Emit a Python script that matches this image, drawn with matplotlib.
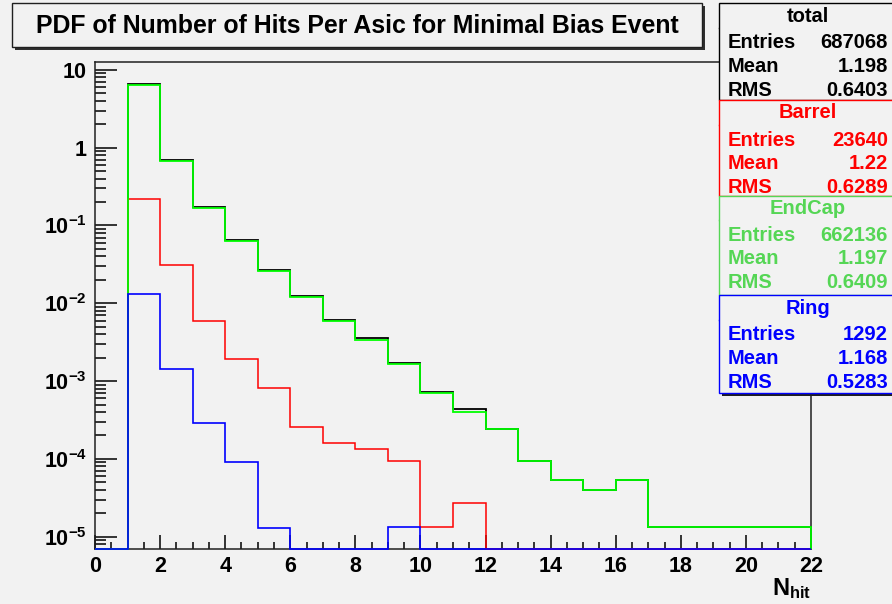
import numpy as np
import matplotlib
matplotlib.use("Agg")
import matplotlib.pyplot as plt
from matplotlib.patches import Rectangle
from matplotlib.ticker import FixedLocator, FuncFormatter, LogLocator, MultipleLocator, NullFormatter

plt.rcParams["font.family"] = ["Liberation Sans", "DejaVu Sans"]
plt.rcParams["font.weight"] = "bold"
plt.rcParams["mathtext.fontset"] = "custom"
plt.rcParams["mathtext.rm"] = "Liberation Sans:bold"
plt.rcParams["mathtext.it"] = "Liberation Sans:bold"
plt.rcParams["mathtext.bf"] = "Liberation Sans:bold"

# hits per asic, one bin per integer from 0 to 22
edges = np.arange(0, 23)
total = [0, 6.63, 0.70, 0.175, 0.0653, 0.0269, 0.01245, 0.00616, 0.00353, 0.00173,
         7.33e-4, 4.33e-4, 2.45e-4, 9.3e-5, 5.3e-5, 4.0e-5, 5.3e-5,
         1.32e-5, 1.32e-5, 1.32e-5, 1.32e-5, 1.32e-5]
barrel = [0, 0.218, 0.0306, 0.0060, 0.00193, 8.1e-4, 2.6e-4, 1.59e-4, 1.35e-4, 9.3e-5,
          1.32e-5, 2.72e-5, 0, 0, 0, 0, 0, 0, 0, 0, 0, 0]
endcap = [0, 6.40, 0.67, 0.169, 0.0633, 0.0261, 0.0122, 0.0060, 0.00339, 0.00165,
          7.1e-4, 4.06e-4, 2.45e-4, 9.3e-5, 5.3e-5, 4.0e-5, 5.3e-5,
          1.32e-5, 1.32e-5, 1.32e-5, 1.32e-5, 1.32e-5]
ring = [0, 0.0132, 0.00144, 2.9e-4, 9.2e-5, 1.31e-5, 0, 0, 0, 1.32e-5,
        0, 0, 0, 0, 0, 0, 0, 0, 0, 0, 0, 0]

stat_names = ["total", "Barrel", "EndCap", "Ring"]
stat_entries = ["687068", "23640", "662136", "1292"]
stat_mean = ["1.198", "1.22", "1.197", "1.168"]
stat_rms = ["0.6403", "0.6289", "0.6409", "0.5283"]
stat_colors = ["black", "#ff0000", "#55d655", "#0000ff"]

W, H = 892, 604
bg = "#f2f2f2"
ymin, ymax = 6.95e-6, 12.5


def fx(px):
    return px / W


def fy(py):
    return 1 - py / H


def box(x0, y0, x1, y1, ec, lw=1.0, fc=bg, z=1):
    fig.patches.append(Rectangle((fx(x0), fy(y1)), (x1 - x0) / W, (y1 - y0) / H,
                                 transform=fig.transFigure, fc=fc, ec=ec, lw=lw, zorder=z))


fig = plt.figure(figsize=(W / 100, H / 100), dpi=100, facecolor=bg)
ax = fig.add_axes([fx(95), fy(549), (811 - 95) / W, (549 - 62.3) / H])
ax.set_facecolor(bg)

# empty bins sit on the bottom of the frame
for vals, col, lw in [(total, "black", 1.3), (barrel, "#ff0000", 1.1),
                      (endcap, "#00ff00", 1.3), (ring, "#0000ff", 1.2)]:
    v = np.array(vals, dtype=float)
    v = np.where(v > 0, v, ymin)
    ax.stairs(v, edges, baseline=ymin, color=col, lw=lw, zorder=3, clip_on=False)

ax.set_yscale("log")
ax.set_xlim(0, 22)
ax.set_ylim(ymin, ymax)

ax.yaxis.set_major_locator(FixedLocator([1e-5, 1e-4, 1e-3, 1e-2, 1e-1, 1, 10]))


def ylab(v, pos):
    if v >= 10:
        return "10"
    if v >= 1:
        return "1"
    return r"$10^{%d}$" % int(round(np.log10(v)))


ax.yaxis.set_major_formatter(FuncFormatter(ylab))
ax.yaxis.set_minor_locator(LogLocator(base=10, subs=np.arange(2, 10), numticks=20))
ax.yaxis.set_minor_formatter(NullFormatter())
ax.xaxis.set_major_locator(MultipleLocator(2))
ax.xaxis.set_minor_locator(MultipleLocator(0.5))

ax.tick_params(axis="y", which="major", direction="in", length=15.8, width=1.1, pad=5.8, labelsize=15.5)
ax.tick_params(axis="y", which="minor", direction="in", length=7.9, width=1.1)
ax.tick_params(axis="x", which="major", direction="in", length=10, width=1.1, pad=5.4, labelsize=15.5)
ax.tick_params(axis="x", which="minor", direction="in", length=5, width=1.1)
for sp in ax.spines.values():
    sp.set_linewidth(1.1)
    sp.set_color("#202020")
for lab in ax.get_xticklabels() + ax.get_yticklabels():
    lab.set_fontweight("bold")

fig.text(fx(811), fy(595), r"$N_{hit}$", ha="right", va="baseline", fontsize=17)

# title box with drop shadow
box(15, 6, 705, 50, ec="none", fc="#303030", z=1)
box(12, 3, 702, 47, ec="#202020", lw=1.0, z=2)
fig.text(fx(357), fy(26), "PDF of Number of Hits Per Asic for Minimal Bias Event",
         ha="center", va="center", fontsize=17.9, fontweight="bold", zorder=3)

# stat boxes stacked on the right
tops = [3, 100, 195.5, 295, 393]
for i, name in enumerate(stat_names):
    t, b = tops[i], tops[i + 1]
    c = stat_colors[i]
    box(722, t + 3, 905, b + 3, ec="none", fc="#202020", z=4 + 2 * i)
    box(719, t, 900, b, ec=c, lw=1.0, z=5 + 2 * i)
    fig.lines.append(plt.Line2D([fx(719), fx(900)], [fy(t + 24.5), fy(t + 24.5)],
                                transform=fig.transFigure, color=c, lw=1.0, zorder=5 + 2 * i))
    fig.text(fx(808), fy(t + 13), name, ha="center", va="center", color=c,
             fontsize=14.5, fontweight="bold", zorder=5 + 2 * i)
    rows = [("Entries", stat_entries[i]), ("Mean", stat_mean[i]), ("RMS", stat_rms[i])]
    for k, (lab, val) in enumerate(rows):
        yy = t + 40 + 23.5 * k
        fig.text(fx(728), fy(yy), lab, ha="left", va="center", color=c,
                 fontsize=14.5, fontweight="bold", zorder=5 + 2 * i)
        fig.text(fx(888), fy(yy), val, ha="right", va="center", color=c,
                 fontsize=14.5, fontweight="bold", zorder=5 + 2 * i)

fig.savefig("out.png", dpi=100, facecolor=bg)
